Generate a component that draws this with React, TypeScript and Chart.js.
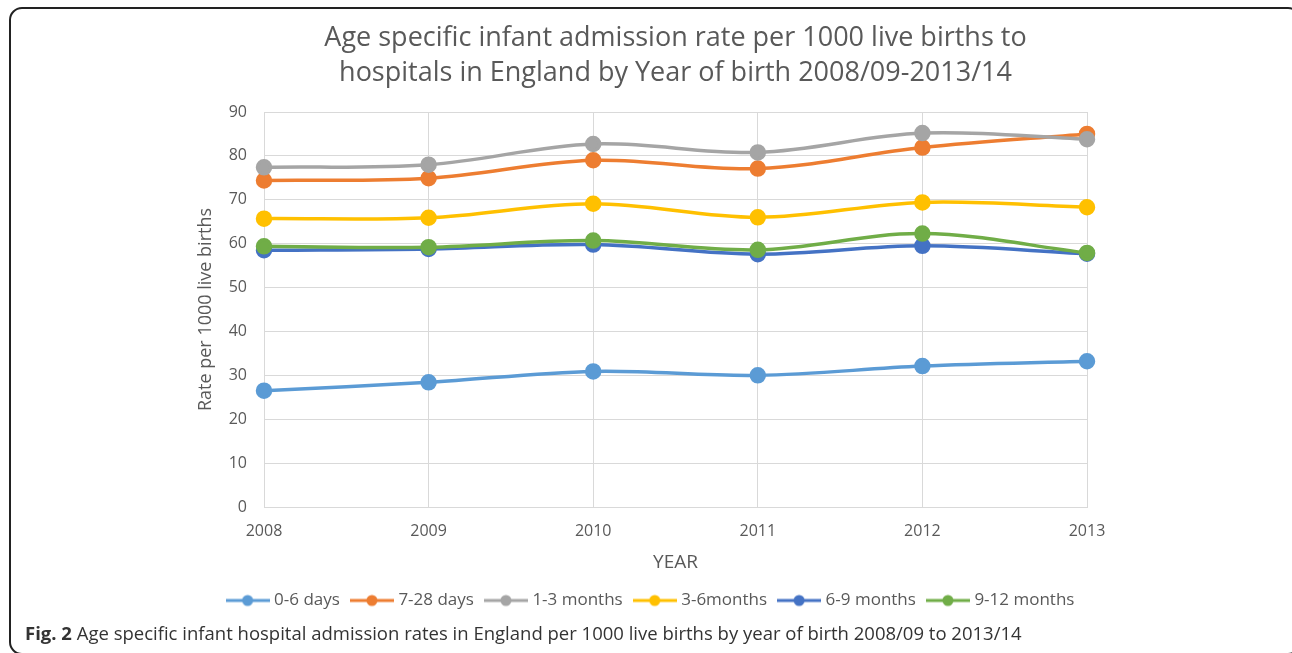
import React, { useEffect, useRef } from "react";
import { Chart, registerables } from "chart.js";

Chart.register(...registerables);

const years = ["2008", "2009", "2010", "2011", "2012", "2013"];
const yTicks = [0, 10, 20, 30, 40, 50, 60, 70, 80, 90];

const titleLines = [
  "Age specific infant admission rate per 1000 live births to",
  "hospitals in England by Year of birth 2008/09-2013/14",
];

const seriesNames = ["0-6 days", "7-28 days", "1-3 months", "3-6months", "6-9 months", "9-12 months"];
const seriesColors = ["#5B9BD5", "#ED7D31", "#A5A5A5", "#FFC000", "#4472C4", "#70AD47"];

const days0to6 = [26.5, 28.4, 30.9, 30.0, 32.1, 33.2];
const days7to28 = [74.4, 74.9, 79.0, 77.1, 81.9, 85.0];
const months1to3 = [77.4, 78.0, 82.7, 80.8, 85.2, 83.8];
const months3to6 = [65.7, 65.9, 69.1, 66.0, 69.4, 68.3];
const months6to9 = [58.5, 58.8, 59.8, 57.6, 59.5, 57.7];
const months9to12 = [59.4, 59.2, 60.7, 58.6, 62.3, 57.9];

const seriesValues = [days0to6, days7to28, months1to3, months3to6, months6to9, months9to12];

const TEXT = "#595959";
const FONT = "'Open Sans', sans-serif";

function makeLegendImage(color: string): HTMLCanvasElement {
  const c = document.createElement("canvas");
  c.width = 44;
  c.height = 14;
  const ctx = c.getContext("2d")!;
  ctx.strokeStyle = color;
  ctx.lineWidth = 3;
  ctx.beginPath();
  ctx.moveTo(0, 7);
  ctx.lineTo(44, 7);
  ctx.stroke();
  ctx.fillStyle = color;
  ctx.beginPath();
  ctx.arc(22, 7, 5.5, 0, Math.PI * 2);
  ctx.fill();
  return c;
}

const titlePlugin = {
  id: "centeredTitle",
  afterDraw(chart: any) {
    const { ctx, chartArea } = chart;
    const cx = (chartArea.left + chartArea.right) / 2;
    ctx.save();
    ctx.fillStyle = TEXT;
    ctx.font = `27px ${FONT}`;
    ctx.textAlign = "center";
    ctx.textBaseline = "middle";
    ctx.fillText(titleLines[0], cx, 38);
    ctx.fillText(titleLines[1], cx, 73);
    ctx.restore();
  },
};

export default function App() {
  const ref = useRef<HTMLCanvasElement | null>(null);

  useEffect(() => {
    if (!ref.current) return;
    const imgs = seriesColors.map(makeLegendImage);
    const chart = new Chart(ref.current, {
      type: "line",
      data: {
        labels: years,
        datasets: seriesNames.map((name, i) => ({
          label: name,
          data: seriesValues[i],
          borderColor: seriesColors[i],
          backgroundColor: seriesColors[i],
          pointBackgroundColor: seriesColors[i],
          pointBorderColor: seriesColors[i],
          borderWidth: 3.5,
          pointRadius: 6.5,
          pointHoverRadius: 6.5,
          tension: 0.35,
          fill: false,
          order: seriesNames.length - i,
          yAxisID: "y",
        })),
      },
      plugins: [titlePlugin],
      options: {
        responsive: false,
        animation: false,
        layout: { padding: { left: 191, right: 179, top: 112, bottom: 34 } },
        plugins: {
          tooltip: { enabled: false },
          title: { display: false },
          legend: {
            position: "bottom",
            labels: {
              color: TEXT,
              font: { family: FONT, size: 17 },
              usePointStyle: true,
              pointStyleWidth: 36,
              padding: 14,
              generateLabels: (ch: any) =>
                ch.data.datasets.map((ds: any, i: number) => ({
                  text: ds.label,
                  pointStyle: imgs[i],
                  fillStyle: seriesColors[i],
                  strokeStyle: "transparent",
                  lineWidth: 0,
                  hidden: false,
                  datasetIndex: i,
                  fontColor: TEXT,
                })),
            },
          },
        },
        scales: {
          x: {
            type: "category",
            offset: false,
            grid: { color: "#D9D9D9", lineWidth: 1, drawTicks: false },
            border: { color: "#D9D9D9" },
            ticks: { color: TEXT, font: { family: FONT, size: 16 }, padding: 15, maxRotation: 0 },
            title: {
              display: true,
              text: "YEAR",
              color: TEXT,
              font: { family: FONT, size: 19 },
              padding: { top: 4, bottom: 4 },
            },
            afterFit: (s: any) => {
              s.height = 71;
            },
          },
          y: {
            min: 0,
            max: 90,
            afterBuildTicks: (s: any) => {
              s.ticks = yTicks.map((v) => ({ value: v }));
            },
            grid: { color: "#D9D9D9", lineWidth: 1, drawTicks: false },
            border: { color: "#D9D9D9" },
            ticks: { color: TEXT, font: { family: FONT, size: 16 }, padding: 17 },
            title: {
              display: true,
              text: "Rate per 1000 live births",
              color: TEXT,
              font: { family: FONT, size: 18 },
              padding: { top: 4, bottom: 0 },
            },
            afterFit: (s: any) => {
              s.width = 73;
            },
          },
          spacer: {
            type: "linear",
            position: "right",
            grid: { display: false, drawTicks: false },
            border: { display: false },
            ticks: { display: false },
            afterFit: (s: any) => {
              s.width = 26;
            },
          },
        },
      },
    });
    return () => chart.destroy();
  }, []);

  return (
    <div style={{ position: "absolute", left: 0, top: 0, width: 1292, height: 653, overflow: "hidden", background: "#fff" }}>
      <canvas ref={ref} width={1292} height={653} style={{ position: "absolute", left: 0, top: 0 }} />
      <div
        style={{
          position: "absolute",
          left: 9,
          top: 7,
          width: 1292,
          height: 648,
          boxSizing: "border-box",
          border: "2px solid #222",
          borderRadius: 13,
          pointerEvents: "none",
        }}
      />
      <div
        style={{
          position: "absolute",
          left: 25,
          top: 620,
          fontFamily: FONT,
          fontSize: 18.5,
          lineHeight: "26px",
          color: "#333",
          whiteSpace: "nowrap",
        }}
      >
        <b>Fig. 2</b> Age specific infant hospital admission rates in England per 1000 live births by year of birth 2008/09 to 2013/14
      </div>
    </div>
  );
}
